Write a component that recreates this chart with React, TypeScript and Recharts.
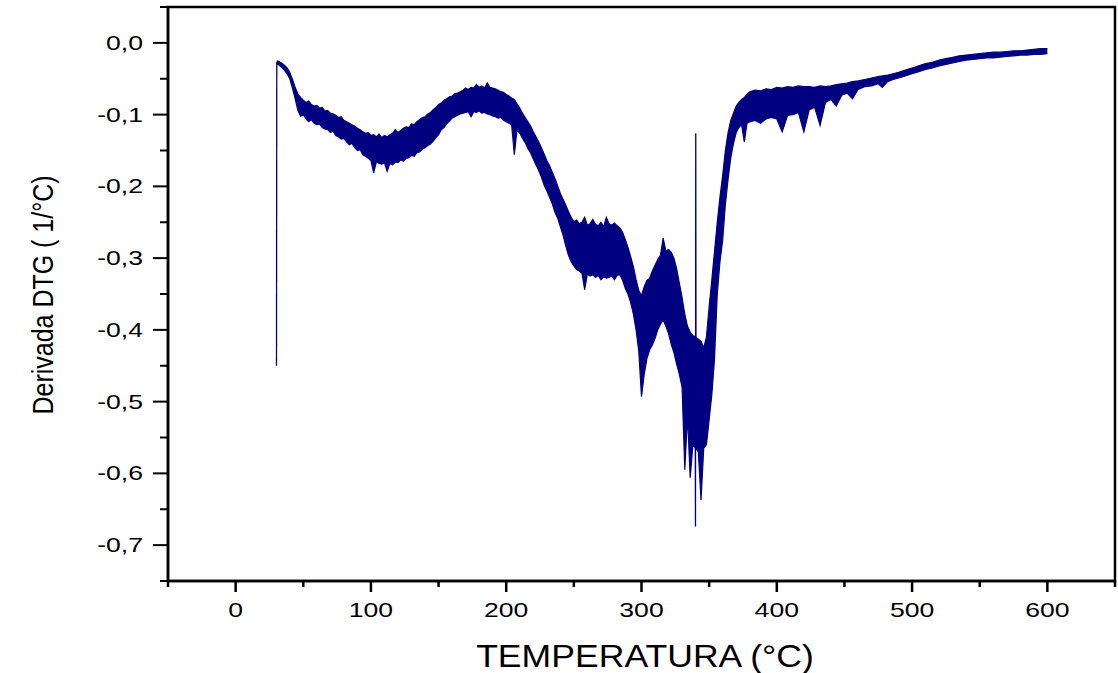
import React from 'react';
import { ComposedChart, Area, Line, XAxis, YAxis, ReferenceArea } from 'recharts';

// [temperature °C, upper edge of noisy DTG band, lower edge of band]
const dtgEnvelope: [number, number, number][] = [
  [30.4, -0.025, -0.029], [32, -0.026, -0.031], [34, -0.028, -0.034], [36, -0.031, -0.038],
  [38, -0.035, -0.043], [40, -0.041, -0.050], [42, -0.051, -0.063], [44, -0.062, -0.078],
  [46, -0.071, -0.094], [48, -0.076, -0.102], [50, -0.080, -0.100], [52, -0.083, -0.106],
  [54, -0.081, -0.110], [56, -0.086, -0.107], [58, -0.088, -0.112], [60, -0.087, -0.114],
  [62, -0.091, -0.113], [64, -0.090, -0.118], [66, -0.095, -0.120], [68, -0.094, -0.121],
  [70, -0.098, -0.125], [72, -0.099, -0.123], [74, -0.101, -0.129], [76, -0.104, -0.131],
  [78, -0.103, -0.134], [80, -0.108, -0.133], [82, -0.110, -0.138], [84, -0.112, -0.142],
  [86, -0.114, -0.140], [88, -0.116, -0.146], [90, -0.119, -0.150], [92, -0.121, -0.149],
  [94, -0.124, -0.156], [96, -0.126, -0.158], [98, -0.125, -0.161], [100, -0.129, -0.164],
  [102, -0.128, -0.181], [104, -0.131, -0.166], [106, -0.127, -0.168], [108, -0.132, -0.169],
  [110, -0.129, -0.167], [112, -0.131, -0.179], [114, -0.128, -0.168], [116, -0.126, -0.170],
  [118, -0.121, -0.166], [120, -0.125, -0.167], [122, -0.122, -0.163], [124, -0.119, -0.165],
  [126, -0.117, -0.161], [128, -0.118, -0.160], [130, -0.113, -0.157], [132, -0.114, -0.158],
  [134, -0.110, -0.153], [136, -0.107, -0.152], [138, -0.104, -0.148], [140, -0.103, -0.146],
  [142, -0.099, -0.143], [144, -0.097, -0.141], [146, -0.093, -0.137], [148, -0.090, -0.132],
  [150, -0.086, -0.128], [152, -0.084, -0.121], [154, -0.080, -0.118], [156, -0.078, -0.113],
  [158, -0.075, -0.109], [160, -0.074, -0.105], [162, -0.071, -0.103], [164, -0.070, -0.101],
  [166, -0.068, -0.099], [168, -0.066, -0.098], [170, -0.063, -0.097], [172, -0.065, -0.096],
  [174, -0.062, -0.103], [176, -0.063, -0.096], [178, -0.058, -0.097], [180, -0.062, -0.095],
  [182, -0.060, -0.098], [184, -0.063, -0.097], [186, -0.056, -0.099], [188, -0.062, -0.100],
  [190, -0.063, -0.102], [192, -0.064, -0.103], [194, -0.066, -0.105], [196, -0.068, -0.104],
  [198, -0.069, -0.108], [200, -0.072, -0.110], [202, -0.074, -0.112], [204, -0.077, -0.114],
  [206, -0.079, -0.156], [208, -0.085, -0.121], [210, -0.091, -0.126], [212, -0.098, -0.133],
  [214, -0.104, -0.139], [216, -0.110, -0.147], [218, -0.116, -0.153], [220, -0.124, -0.162],
  [222, -0.131, -0.170], [224, -0.138, -0.178], [226, -0.146, -0.187], [228, -0.155, -0.198],
  [230, -0.164, -0.206], [232, -0.171, -0.215], [234, -0.180, -0.224], [236, -0.189, -0.236],
  [238, -0.199, -0.244], [240, -0.210, -0.256], [242, -0.218, -0.268], [244, -0.226, -0.283],
  [246, -0.235, -0.296], [248, -0.243, -0.305], [250, -0.249, -0.311], [252, -0.247, -0.316],
  [254, -0.252, -0.318], [256, -0.250, -0.321], [258, -0.243, -0.344], [260, -0.254, -0.322],
  [262, -0.252, -0.325], [264, -0.246, -0.323], [266, -0.253, -0.327], [268, -0.255, -0.324],
  [270, -0.250, -0.330], [272, -0.256, -0.326], [274, -0.243, -0.328], [276, -0.252, -0.327],
  [278, -0.254, -0.325], [280, -0.251, -0.330], [282, -0.255, -0.324], [284, -0.258, -0.323],
  [286, -0.264, -0.331], [288, -0.274, -0.342], [290, -0.285, -0.350], [292, -0.298, -0.362],
  [294, -0.312, -0.378], [296, -0.330, -0.400], [298, -0.345, -0.430], [300, -0.352, -0.493],
  [302, -0.340, -0.462], [304, -0.331, -0.440], [306, -0.328, -0.428], [308, -0.318, -0.421],
  [310, -0.310, -0.412], [312, -0.302, -0.400], [314, -0.296, -0.392], [316, -0.272, -0.386],
  [318, -0.290, -0.395], [320, -0.288, -0.405], [322, -0.292, -0.420], [324, -0.300, -0.432],
  [326, -0.315, -0.448], [328, -0.335, -0.462], [330, -0.355, -0.480], [332, -0.378, -0.595],
  [334, -0.395, -0.520], [336, -0.403, -0.606], [338, -0.408, -0.560], [340, -0.410, -0.565],
  [342, -0.413, -0.570], [344, -0.416, -0.637], [346, -0.425, -0.565], [348, -0.410, -0.560],
  [350, -0.368, -0.525], [352, -0.330, -0.490], [354, -0.290, -0.440], [356, -0.250, -0.350],
  [358, -0.215, -0.305], [360, -0.185, -0.275], [362, -0.150, -0.225], [364, -0.125, -0.190],
  [366, -0.108, -0.160], [368, -0.098, -0.140], [370, -0.088, -0.125], [372, -0.083, -0.118],
  [374, -0.079, -0.114], [376, -0.076, -0.138], [378, -0.072, -0.112], [380, -0.068, -0.110],
  [384, -0.066, -0.108], [388, -0.067, -0.112], [392, -0.064, -0.106], [396, -0.065, -0.104],
  [400, -0.062, -0.106], [404, -0.063, -0.124], [408, -0.061, -0.101], [412, -0.062, -0.100],
  [416, -0.060, -0.097], [420, -0.061, -0.124], [424, -0.061, -0.093], [428, -0.062, -0.090],
  [432, -0.060, -0.115], [436, -0.061, -0.083], [440, -0.060, -0.079], [444, -0.058, -0.088],
  [448, -0.057, -0.073], [452, -0.056, -0.070], [456, -0.054, -0.078], [460, -0.053, -0.065],
  [465, -0.051, -0.061], [470, -0.049, -0.060], [475, -0.047, -0.057], [478, -0.046, -0.062],
  [482, -0.045, -0.054], [486, -0.043, -0.051], [490, -0.041, -0.049], [495, -0.038, -0.046],
  [500, -0.035, -0.043], [505, -0.032, -0.040], [510, -0.029, -0.037], [515, -0.027, -0.035],
  [520, -0.024, -0.032], [525, -0.022, -0.030], [530, -0.020, -0.028], [535, -0.018, -0.026],
  [540, -0.017, -0.024], [545, -0.016, -0.023], [550, -0.015, -0.022], [555, -0.014, -0.021],
  [560, -0.013, -0.021], [565, -0.013, -0.020], [570, -0.012, -0.019], [575, -0.011, -0.018],
  [580, -0.011, -0.017], [585, -0.010, -0.017], [590, -0.009, -0.016], [595, -0.008, -0.016],
  [600, -0.008, -0.015],
];

// thin single-sample lines: the initial drop at ~30 °C and the sharp spike at ~340 °C
const startTemps = [30.2, 30.4];
const startValues = [-0.45, -0.027];
const spikeTemps = [339.7, 339.9, 340.1, 340.3];
const spikeValues = [-0.5, -0.674, -0.126, -0.45];

const xMajorTicks = [0, 100, 200, 300, 400, 500, 600];
const xMinorTicks = [-50, 50, 150, 250, 350, 450, 550, 650];
const yMajorTicks = [0, -0.1, -0.2, -0.3, -0.4, -0.5, -0.6, -0.7];
const yMinorTicks = [0.05, -0.05, -0.15, -0.25, -0.35, -0.45, -0.55, -0.65, -0.75];

const xTitle = 'TEMPERATURA (°C)';
const yTitle = 'Derivada DTG ( 1/°C)';

const NAVY = '#000080';
const FONT = "'Liberation Sans', Arial, Helvetica, sans-serif";

const bandData = dtgEnvelope.map(([t, hi, lo]) => ({ t, band: [lo, hi] }));
const startData = startTemps.map((t, i) => ({ t, v: startValues[i] }));
const spikeData = spikeTemps.map((t, i) => ({ t, v: spikeValues[i] }));

const isMajor = (arr: number[], v: number) => arr.some((m) => Math.abs(m - v) < 1e-9);

const XTick = (props: any) => {
  const { x, y, payload } = props;
  const major = isMajor(xMajorTicks, payload.value);
  return (
    <g>
      <line x1={x} x2={x} y1={y} y2={y + (major ? 11 : 6)} stroke="#000" strokeWidth={2.5} />
      {major && (
        <text
          transform={`translate(${x},${y + 36}) scale(1.33,1)`}
          textAnchor="middle"
          fontSize={20}
          fontFamily={FONT}
          fill="#000"
        >
          {String(payload.value)}
        </text>
      )}
    </g>
  );
};

const YTick = (props: any) => {
  const { x, y, payload } = props;
  const major = isMajor(yMajorTicks, payload.value);
  const label = (Math.abs(payload.value) < 1e-9 ? 0 : payload.value).toFixed(1).replace('.', ',');
  return (
    <g>
      <line x1={x} x2={x - (major ? 15 : 8)} y1={y} y2={y} stroke="#000" strokeWidth={2} />
      {major && (
        <text
          transform={`translate(${x - 25},${y + 7}) scale(1.33,1)`}
          textAnchor="end"
          fontSize={20}
          fontFamily={FONT}
          fill="#000"
        >
          {label}
        </text>
      )}
    </g>
  );
};

export default function App() {
  return (
    <div style={{ position: 'absolute', left: 0, top: 0, width: 1118, height: 673, background: '#fff' }}>
      <ComposedChart width={1118} height={673} margin={{ top: 7, right: 3, bottom: 0, left: 0 }}>
        <XAxis
          dataKey="t"
          type="number"
          domain={[-50, 650]}
          ticks={[...xMinorTicks, ...xMajorTicks].sort((a, b) => a - b)}
          allowDataOverflow
          height={92}
          tickSize={0}
          tickMargin={0}
          tickLine={false}
          axisLine={{ stroke: '#000', strokeWidth: 2.5 }}
          tick={<XTick />}
          interval={0}
        />
        <YAxis
          type="number"
          domain={[-0.75, 0.05]}
          ticks={[...yMinorTicks, ...yMajorTicks].sort((a, b) => a - b)}
          allowDataOverflow
          width={168}
          tickSize={0}
          tickMargin={0}
          tickLine={false}
          axisLine={{ stroke: '#000', strokeWidth: 2.5 }}
          tick={<YTick />}
          interval={0}
        />
        <ReferenceArea
          x1={-50}
          x2={650}
          y1={-0.75}
          y2={0.05}
          fill="none"
          stroke="#000"
          strokeWidth={2.5}
          ifOverflow="visible"
        />
        <Area
          data={bandData}
          dataKey="band"
          type="linear"
          stroke={NAVY}
          strokeWidth={1.2}
          fill={NAVY}
          fillOpacity={1}
          isAnimationActive={false}
          dot={false}
          activeDot={false}
        />
        <Line
          data={startData}
          dataKey="v"
          type="linear"
          stroke={NAVY}
          strokeWidth={1.3}
          dot={false}
          activeDot={false}
          isAnimationActive={false}
        />
        <Line
          data={spikeData}
          dataKey="v"
          type="linear"
          stroke={NAVY}
          strokeWidth={1.3}
          dot={false}
          activeDot={false}
          isAnimationActive={false}
        />
        <text
          transform="translate(645,667) scale(1.13,1)"
          textAnchor="middle"
          fontSize={31.5}
          fontFamily={FONT}
          fill="#000"
        >
          {xTitle}
        </text>
        <text
          transform="translate(53,295) rotate(-90) scale(1,1.21)"
          textAnchor="middle"
          fontSize={25}
          fontFamily={FONT}
          fill="#000"
        >
          {yTitle}
        </text>
      </ComposedChart>
    </div>
  );
}
